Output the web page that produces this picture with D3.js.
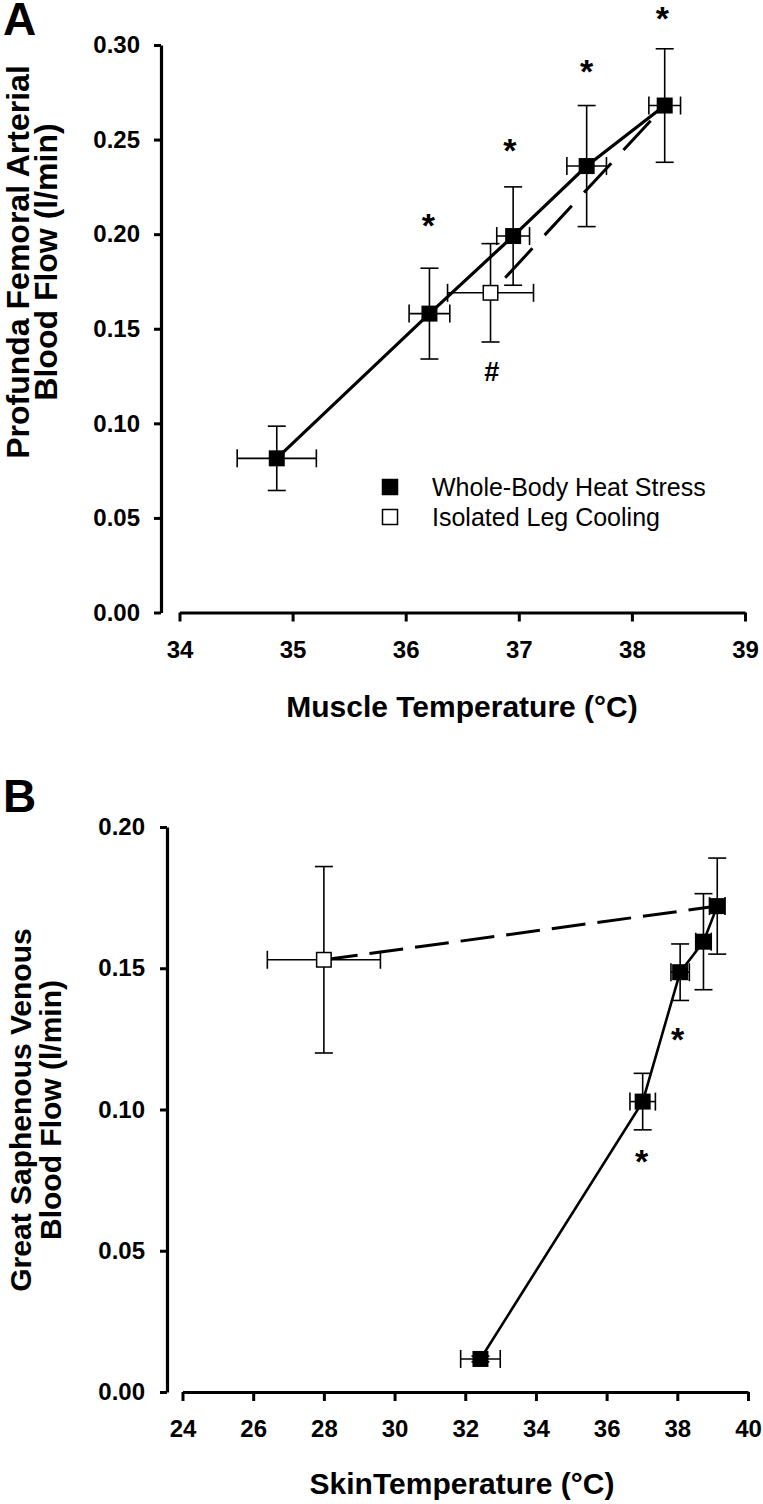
<!DOCTYPE html>
<html><head><meta charset="utf-8">
<script src="https://cdn.jsdelivr.net/npm/d3@7"></script>
<style>
html,body{margin:0;padding:0;background:#fff;}
svg{display:block;font-family:"Liberation Sans",Arial,sans-serif;}
</style></head>
<body>
<svg id="chart" width="763" height="1504"></svg>
<script>
// ---------- Panel A data ----------
const tempA_heat = [34.86, 36.21, 36.95, 37.60, 38.29];
const flowA_heat = [0.0815, 0.158, 0.199, 0.236, 0.268];
const xerrA_heat = [0.35, 0.18, 0.145, 0.175, 0.14];
const yerrA_heat = [0.017, 0.024, 0.026, 0.032, 0.030];
const tempA_cool = [36.75];
const flowA_cool = [0.169];
const xerrA_cool = [0.38];
const yerrA_cool = [0.026];
const tempA_dash = [36.88, 38.29];
const flowA_dash = [0.177, 0.268];
const starA_x = [36.20, 36.92, 37.60, 38.27];
const starA_y = [0.2085, 0.248, 0.290, 0.318];
const hashA_x = [36.76];
const hashA_y = [0.1273];
const xTicksA = [34, 35, 36, 37, 38, 39];
const yTicksA = [0, 0.05, 0.10, 0.15, 0.20, 0.25, 0.30];

// ---------- Panel B data ----------
const tempB_heat = [32.43, 37.02, 38.08, 38.74, 39.13];
const flowB_heat = [0.0117, 0.1028, 0.1486, 0.1594, 0.172];
const xerrB_heat = [0.56, 0.36, 0.26, 0.22, 0.22];
const yerrB_heat = [0.001, 0.010, 0.010, 0.017, 0.017];
const tempB_cool = [28.0];
const flowB_cool = [0.153];
const xerrB_cool = [1.6];
const yerrB_cool = [0.033];
const tempB_dash = [28.0, 39.13];
const flowB_dash = [0.153, 0.172];
const starB_x = [38.01, 36.99];
const starB_y = [0.1275, 0.0842];
const xTicksB = [24, 26, 28, 30, 32, 34, 36, 38, 40];
const yTicksB = [0, 0.05, 0.10, 0.15, 0.20];

const legendLabels = ["Whole-Body Heat Stress", "Isolated Leg Cooling"];

const svg = d3.select("#chart");
const FONT = "'Liberation Sans', Arial, sans-serif";

function zip(xs, ys, ex, ey) { return xs.map((x, i) => ({x, y: ys[i], ex: ex ? ex[i] : 0, ey: ey ? ey[i] : 0})); }

function drawPanel(cfg) {
  const g = svg.append("g");
  const x = d3.scaleLinear().domain(cfg.xDomain).range(cfg.xRange);
  const y = d3.scaleLinear().domain(cfg.yDomain).range(cfg.yRange);

  const ya = g.append("g").attr("transform", `translate(${cfg.yAxisX},0)`)
    .call(d3.axisLeft(y).tickValues(cfg.yTicks).tickFormat(d3.format(".2f")).tickSize(7).tickSizeOuter(0).tickPadding(cfg.yPad));
  const xa = g.append("g").attr("transform", `translate(0,${cfg.xAxisY})`)
    .call(d3.axisBottom(x).tickValues(cfg.xTicks).tickFormat(d3.format("d")).tickSize(9).tickSizeOuter(0).tickPadding(19));
  [ya, xa].forEach(a => {
    a.select(".domain").attr("stroke", "#000").attr("stroke-width", 3.2);
    a.selectAll(".tick line").attr("stroke", "#000").attr("stroke-width", 3);
    a.selectAll(".tick text").attr("fill", "#000").style("font-family", FONT)
      .style("font-size", "24px").style("font-weight", "bold");
  });

  g.append("text").attr("x", cfg.xTitleX).attr("y", cfg.xTitleY).attr("text-anchor", "middle")
    .style("font-family", FONT).style("font-size", "30px").style("font-weight", "bold")
    .text(cfg.xTitle);
  cfg.yTitle.forEach((t, i) => {
    g.append("text").attr("transform", `translate(${cfg.yTitleX[i]},${cfg.yTitleY}) rotate(-90)`)
      .attr("text-anchor", "middle")
      .style("font-family", FONT).style("font-size", cfg.yTitleSize + "px").style("font-weight", "bold")
      .text(t);
  });
  g.append("text").attr("x", 3).attr("y", cfg.letterY)
    .style("font-family", FONT).style("font-size", "46px").style("font-weight", "bold").text(cfg.letter);

  const line = d3.line().x(d => x(d.x)).y(d => y(d.y));
  g.append("path").datum(zip(cfg.dashX, cfg.dashY)).attr("d", line)
    .attr("fill", "none").attr("stroke", "#000").attr("stroke-width", 3).attr("stroke-dasharray", cfg.dash);
  const heat = zip(cfg.heatX, cfg.heatY, cfg.heatEX, cfg.heatEY);
  const cool = zip(cfg.coolX, cfg.coolY, cfg.coolEX, cfg.coolEY);
  g.append("path").datum(heat).attr("d", line)
    .attr("fill", "none").attr("stroke", "#000").attr("stroke-width", cfg.solidW);

  const cap = 9;
  function errBars(data) {
    const eg = g.append("g").attr("stroke", "#000").attr("stroke-width", 1.6).attr("fill", "none");
    data.forEach(d => {
      const cx = x(d.x), cy = y(d.y);
      const y1 = y(d.y + d.ey), y2 = y(d.y - d.ey);
      const x1 = x(d.x - d.ex), x2 = x(d.x + d.ex);
      eg.append("line").attr("x1", cx).attr("x2", cx).attr("y1", y1).attr("y2", y2);
      eg.append("line").attr("x1", cx - cap).attr("x2", cx + cap).attr("y1", y1).attr("y2", y1);
      eg.append("line").attr("x1", cx - cap).attr("x2", cx + cap).attr("y1", y2).attr("y2", y2);
      eg.append("line").attr("x1", x1).attr("x2", x2).attr("y1", cy).attr("y2", cy);
      eg.append("line").attr("x1", x1).attr("x2", x1).attr("y1", cy - cap).attr("y2", cy + cap);
      eg.append("line").attr("x1", x2).attr("x2", x2).attr("y1", cy - cap).attr("y2", cy + cap);
    });
  }
  errBars(cool);
  errBars(heat);

  const s = cfg.markerSize;
  g.append("g").selectAll("rect").data(cool).join("rect")
    .attr("x", d => x(d.x) - s / 2 + 0.75).attr("y", d => y(d.y) - s / 2 + 0.75)
    .attr("width", s - 1.5).attr("height", s - 1.5)
    .attr("fill", "#fff").attr("stroke", "#000").attr("stroke-width", 1.5);
  g.append("g").selectAll("rect").data(heat).join("rect")
    .attr("x", d => x(d.x) - s / 2).attr("y", d => y(d.y) - s / 2)
    .attr("width", s).attr("height", s).attr("fill", "#000");

  cfg.starX.forEach((sx, i) => {
    g.append("text").attr("x", x(sx)).attr("y", y(cfg.starY[i]) + 19).attr("text-anchor", "middle")
      .style("font-family", FONT).style("font-size", "34px").style("font-weight", "bold").text("*");
  });
  (cfg.hashX || []).forEach((hx, i) => {
    g.append("text").attr("x", x(hx)).attr("y", y(cfg.hashY[i]) + 9.5).attr("text-anchor", "middle")
      .style("font-family", FONT).style("font-size", "27px").style("font-weight", "bold").text("#");
  });
  return {g, x, y};
}

const A = drawPanel({
  xDomain: [34, 39], xRange: [179.5, 745], yDomain: [0, 0.30], yRange: [612.5, 45],
  yAxisX: 161, xAxisY: 612.5, yPad: 14, xTicks: xTicksA, yTicks: yTicksA,
  xTitle: "Muscle Temperature (°C)", xTitleX: 462, xTitleY: 717,
  yTitle: ["Profunda Femoral Arterial", "Blood Flow (l/min)"], yTitleX: [29, 57], yTitleY: 262, yTitleSize: 32,
  letter: "A", letterY: 35,
  dashX: tempA_dash, dashY: flowA_dash, dash: "40,18",
  heatX: tempA_heat, heatY: flowA_heat, heatEX: xerrA_heat, heatEY: yerrA_heat,
  coolX: tempA_cool, coolY: flowA_cool, coolEX: xerrA_cool, coolEY: yerrA_cool,
  solidW: 3.2, markerSize: 16,
  starX: starA_x, starY: starA_y, hashX: hashA_x, hashY: hashA_y
});

const lg = A.g.append("g");
legendLabels.forEach((t, i) => {
  const cy = 487 + i * 30;
  lg.append("rect").attr("x", 390 - 7.5).attr("y", cy - 7.5).attr("width", 15).attr("height", 15)
    .attr("fill", i === 0 ? "#000" : "#fff").attr("stroke", "#000").attr("stroke-width", 1.5);
  lg.append("text").attr("x", 432).attr("y", cy + 9)
    .style("font-family", FONT).style("font-size", "25px").text(t);
});

drawPanel({
  xDomain: [24, 40], xRange: [182.5, 748], yDomain: [0, 0.20], yRange: [1392, 827],
  yAxisX: 167, xAxisY: 1392, yPad: 15, xTicks: xTicksB, yTicks: yTicksB,
  xTitle: "SkinTemperature (°C)", xTitleX: 462, xTitleY: 1494,
  yTitle: ["Great Saphenous Venous", "Blood Flow (l/min)"], yTitleX: [31, 61], yTitleY: 1110, yTitleSize: 30,
  letter: "B", letterY: 812,
  dashX: tempB_dash, dashY: flowB_dash, dash: "34,12",
  heatX: tempB_heat, heatY: flowB_heat, heatEX: xerrB_heat, heatEY: yerrB_heat,
  coolX: tempB_cool, coolY: flowB_cool, coolEX: xerrB_cool, coolEY: yerrB_cool,
  solidW: 2.6, markerSize: 16,
  starX: starB_x, starY: starB_y
});
</script>
</body></html>
